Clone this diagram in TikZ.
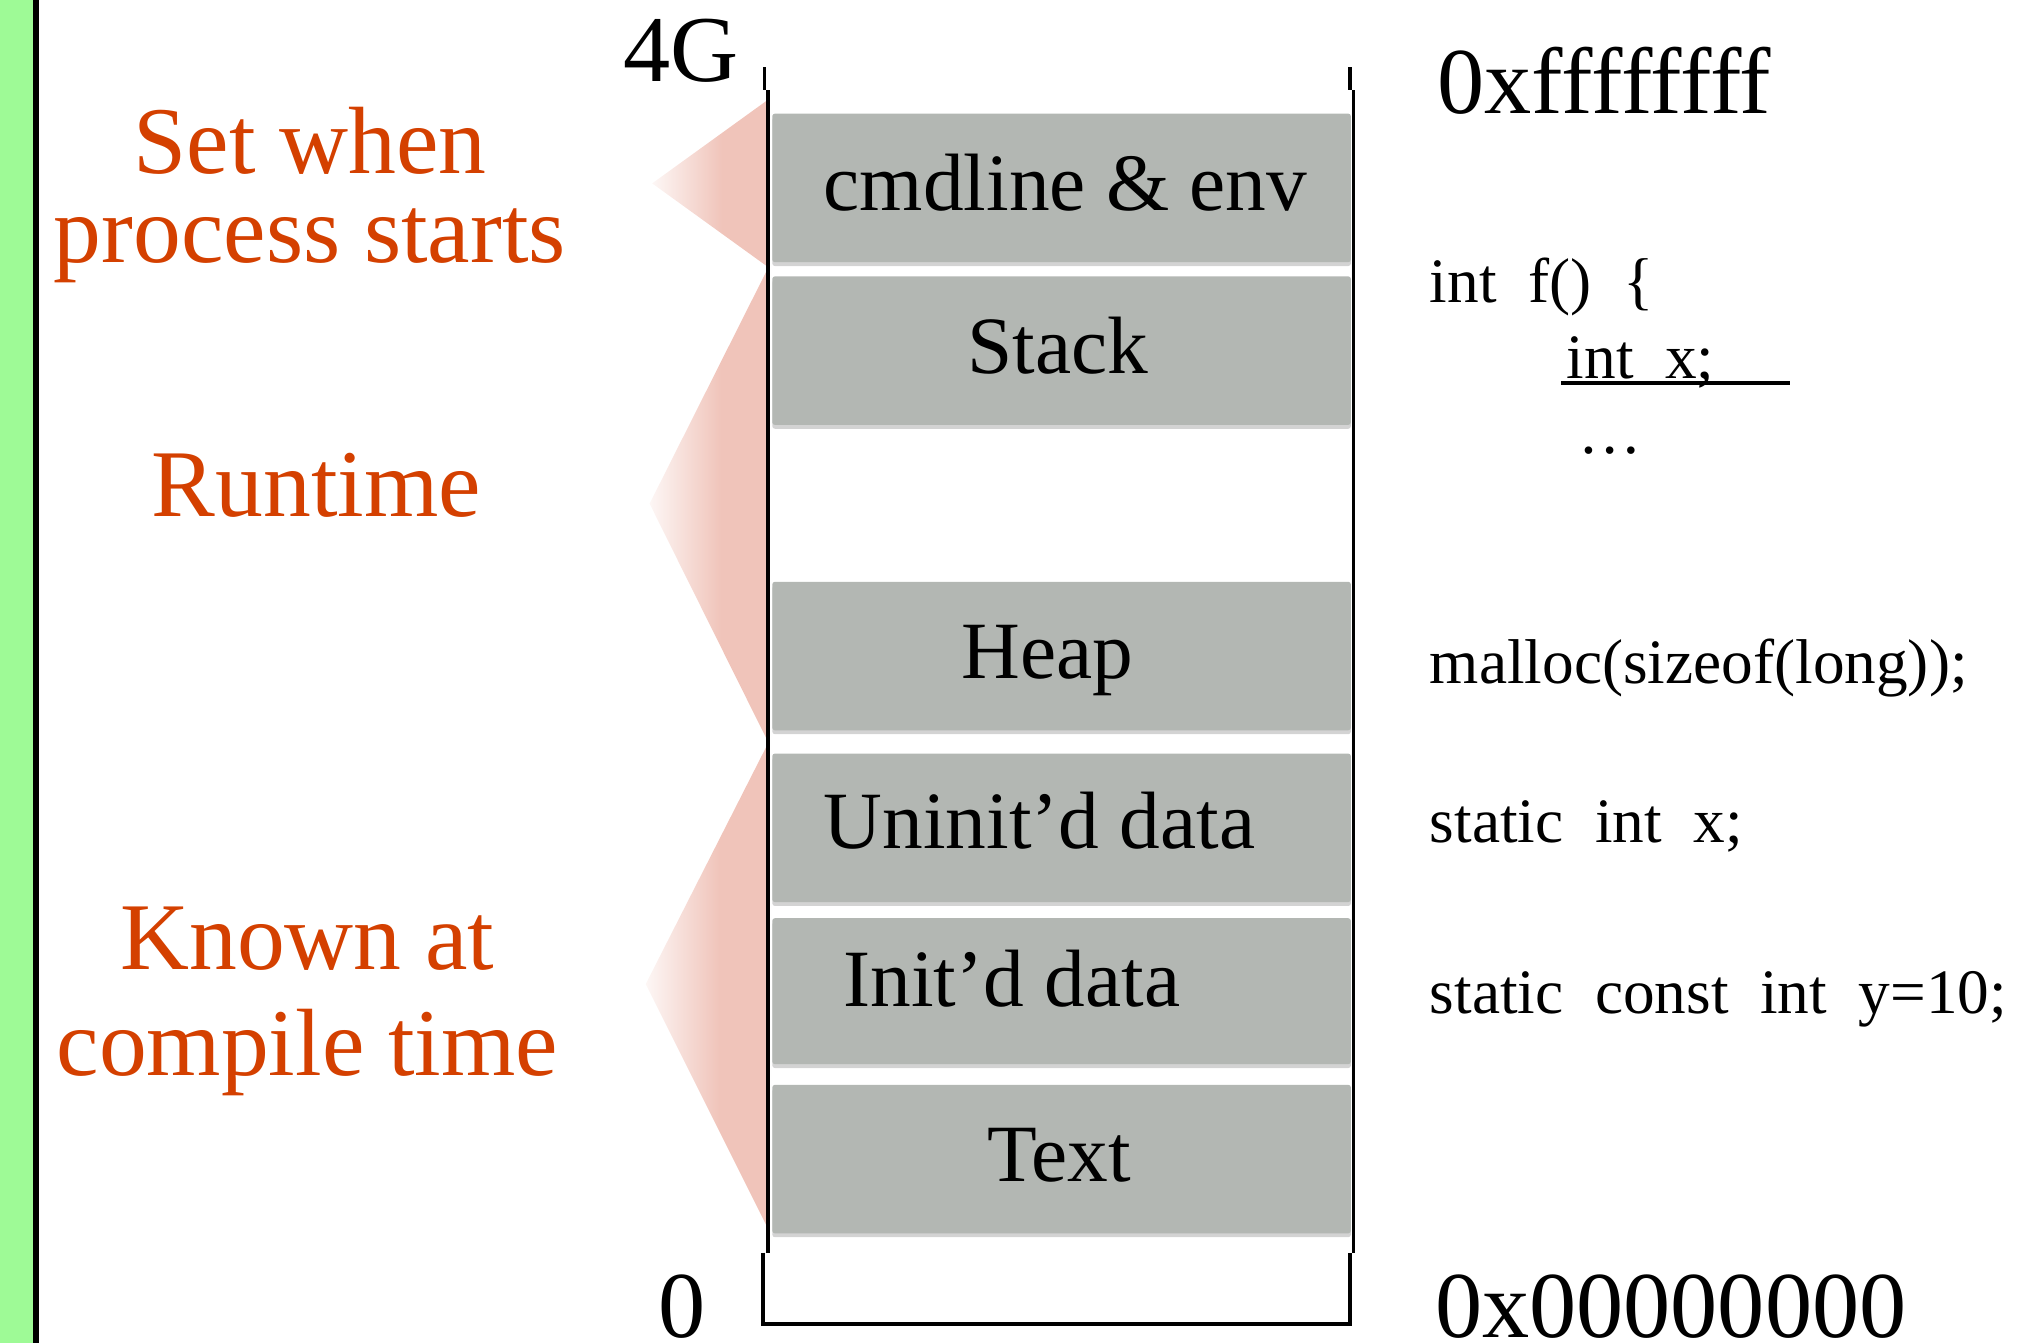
\documentclass[tikz,border=0pt]{standalone}
\usepackage{fontspec}
\setmainfont{Liberation Serif}
\usetikzlibrary{shadows}

\definecolor{barGreen}{RGB}{158,250,150}
\definecolor{segGray}{RGB}{179,183,179}
\definecolor{phaseRed}{RGB}{212,64,0}
\definecolor{fadePink}{RGB}{240,196,186}
\pgfdeclarehorizontalshading{pinkfade}{100bp}{color(0bp)=(white); color(20bp)=(white); color(55bp)=(fadePink); color(100bp)=(fadePink)}

\tikzset{
  segbox/.style={fill=segGray, minimum width=448pt, minimum height=115pt, inner sep=0pt,
    rounded corners=2pt, drop shadow={shadow xshift=0pt, shadow yshift=-3pt, opacity=.35}},
  seglbl/.style={anchor=base, inner sep=0pt, font=\fontsize{63}{63}\selectfont},
  addr/.style={anchor=base west, inner sep=0pt, font=\fontsize{73}{73}\selectfont},
  code/.style={anchor=base west, inner sep=0pt, font=\fontsize{49}{49}\selectfont},
  phase/.style={text=phaseRed, align=center, inner sep=0pt, font=\fontsize{74}{69}\selectfont},
  wall/.style={line width=3pt},
}

\begin{document}
\begin{tikzpicture}[x=1pt,y=-1pt]
  \useasboundingbox (0,0) rectangle (1568,1040);
  \fill[barGreen] (0,0) rectangle (25.5,1040);
  \fill[black] (25.5,0) rectangle (30.5,1040);

  % wedges behind the memory column
  \shade[shading=pinkfade] (595,77) -- (505,142) -- (595,207) -- cycle;
  \shade[shading=pinkfade] (595,207) -- (503,390) -- (595,575) -- cycle;
  \shade[shading=pinkfade] (595,575) -- (500,762) -- (595,952) -- cycle;

  % segments
  \node[segbox] (cmdenv) at (822,145.5) {};
  \node[segbox] (stack) at (822,271.5) {};
  \node[segbox] (heap) at (822,508) {};
  \node[segbox] (bss) at (822,641) {};
  \node[segbox, minimum height=113pt] (data) at (822,767.5) {};
  \node[segbox] (textseg) at (822,897.5) {};

  \node[seglbl] (cmdenvlbl) at (825,163) {cmdline \& env};
  \node[seglbl] (stacklbl) at (819,289) {Stack};
  \node[seglbl] (heaplbl) at (811,525) {Heap};
  \node[seglbl] (bsslbl) at (805,657) {Uninit’d data};
  \node[seglbl] (datalbl) at (783.5,779) {Init’d data};
  \node[seglbl] (textlbl) at (820,914.5) {Text};

  % column walls
  \draw[wall] (592,52) -- (592,70);
  \draw[wall] (595,70) -- (595,970);
  \draw[wall] (1045,52) -- (1045,70);
  \draw[wall] (1048,70) -- (1048,970);
  \draw[wall] (591,970) -- (591,1025) -- (1045,1025) -- (1045,970);

  % addresses
  \node[addr, anchor=base east] (top) at (572,63) {4G};
  \node[addr] (topaddr) at (1113,88) {0xffffffff};
  \node[addr] (bot) at (510,1036) {0};
  \node[addr] (botaddr) at (1111,1036) {0x00000000};

  % examples
  \node[code] (fdecl) at (1107,234) {int~~f()~~\{};
  \node[code] (intx) at (1213,293) {int~~x;};
  \draw[line width=2.5pt] ([xshift=-4pt,yshift=-3.5pt]intx.base west) -- ([xshift=173pt,yshift=-3.5pt]intx.base west);
  \node[code] (dots) at (1222,351) {…};
  \node[code] (mallocln) at (1107,529) {malloc(sizeof(long));};
  \node[code] (bssln) at (1107,652) {static~~int~~x;};
  \node[code] (dataln) at (1107,785) {static~~const~~int~~y=10;};

  % when each part is known
  \node[phase, anchor=base] (setstart) at (240,203) {Set when\\process starts};
  \node[phase, anchor=base] (runtime) at (245,400) {Runtime};
  \node[phase, anchor=base, font=\fontsize{74}{82}\selectfont] (compile) at (238,833) {Known at\\compile time};
\end{tikzpicture}
\end{document}
